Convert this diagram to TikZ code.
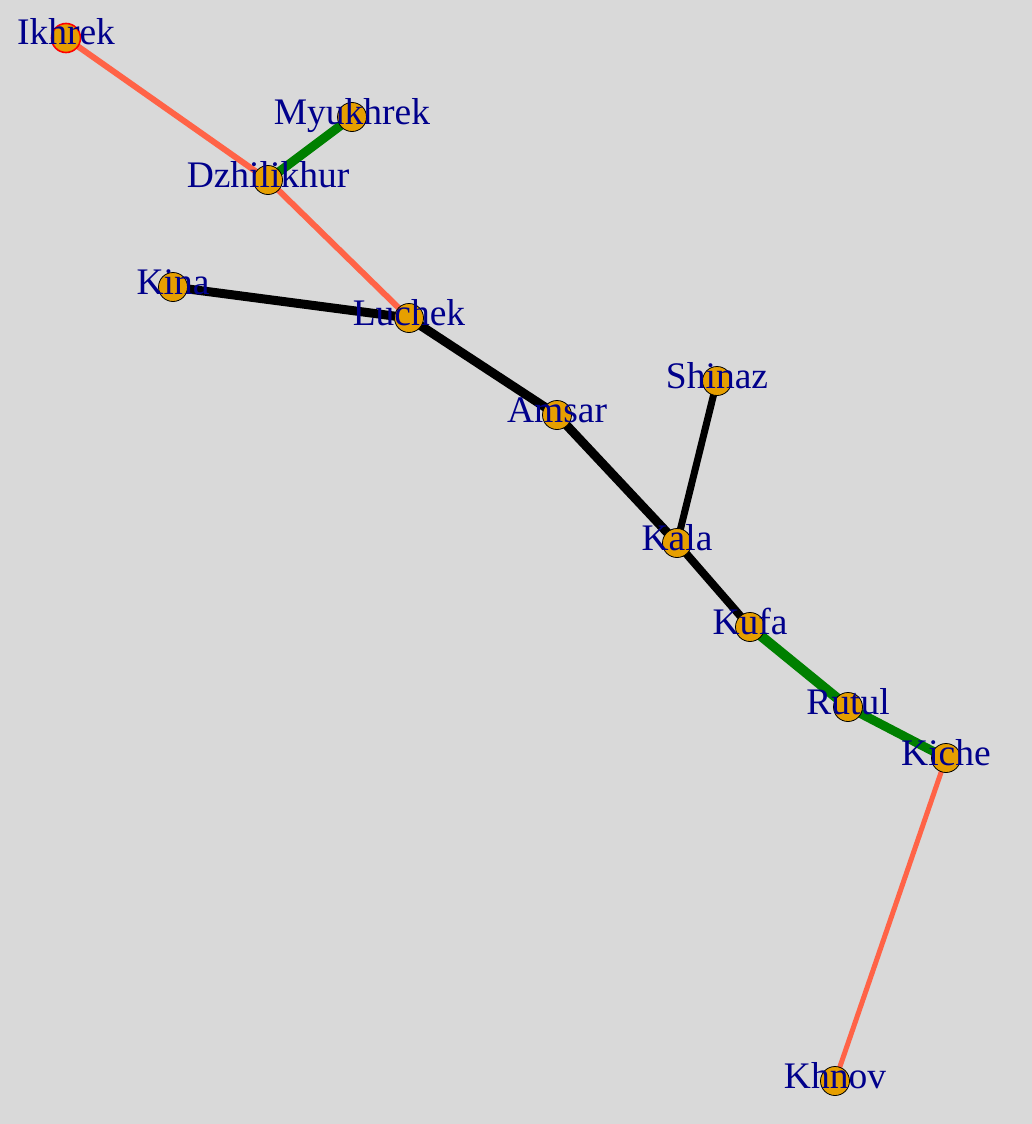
\documentclass[tikz,border=0pt]{standalone}
\usepackage{fontspec}
\setmainfont{Liberation Serif}
\usetikzlibrary{backgrounds}
\definecolor{fondo}{RGB}{217,217,217}
\definecolor{tomate}{RGB}{255,99,71}
\definecolor{verde}{RGB}{0,128,0}
\definecolor{naranja}{RGB}{230,159,0}
\definecolor{azul}{RGB}{0,0,139}
\tikzset{
  vert/.style={
    circle, draw=black, line width=0.8pt, fill=naranja,
    minimum size=29pt, inner sep=0pt},
  etiq/.style={
    anchor=base, yshift=-7pt, inner sep=0pt, text=azul,
    font=\fontsize{37.5}{40}\selectfont},
  rojo/.style={draw=tomate, line width=#1pt},
  rojo/.default=6,
  vde/.style={draw=verde, line width=#1pt},
  vde/.default=9,
  negro/.style={draw=black, line width=#1pt},
  negro/.default=9
}

\begin{document}
\begin{tikzpicture}[x=1pt,y=-1pt]

\useasboundingbox (0,0) rectangle (1032,1124);

\node[vert, draw=red, line width=1.6pt] (ikhrek) at (66,38) {};
\node[vert] (myukhrek)   at (352,117) {};
\node[vert] (dzhilikhur) at (268,180) {};
\node[vert] (kina)       at (173,287) {};
\node[vert] (luchek)     at (409,318) {};
\node[vert] (shinaz)     at (717,381) {};
\node[vert] (amsar)      at (557,415) {};
\node[vert] (kala)       at (677,543) {};
\node[vert] (kufa)       at (750,627) {};
\node[vert] (rutul)      at (848,707) {};
\node[vert] (kiche)      at (946,758) {};
\node[vert] (khnov)      at (835,1081) {};

% etiquetas encima de los vertices
\node[etiq] (ikhrek-t)     at (ikhrek)     {Ikhrek};
\node[etiq] (myukhrek-t)   at (myukhrek)   {Myukhrek};
\node[etiq] (dzhilikhur-t) at (dzhilikhur) {Dzhilikhur};
\node[etiq] (kina-t)       at (kina)       {Kina};
\node[etiq] (luchek-t)     at (luchek)     {Luchek};
\node[etiq] (shinaz-t)     at (shinaz)     {Shinaz};
\node[etiq] (amsar-t)      at (amsar)      {Amsar};
\node[etiq] (kala-t)       at (kala)       {Kala};
\node[etiq] (kufa-t)       at (kufa)       {Kufa};
\node[etiq] (rutul-t)      at (rutul)      {Rutul};
\node[etiq] (kiche-t)      at (kiche)      {Kiche};
\node[etiq] (khnov-t)      at (khnov)      {Khnov};

\begin{scope}[on background layer]
  \fill[fondo] (0,0) rectangle (1032,1124);
  \draw[rojo]     (ikhrek.center) -- (dzhilikhur.center);
  \draw[rojo]     (dzhilikhur.center) -- (luchek.center);
  \draw[vde]      (myukhrek.center) -- (dzhilikhur.center);
  \draw[negro]    (kina.center) -- (luchek.center);
  \draw[negro]    (luchek.center) -- (amsar.center);
  \draw[negro]    (amsar.center) -- (kala.center);
  \draw[negro=7]  (shinaz.center) -- (kala.center);
  \draw[negro=8]  (kala.center) -- (kufa.center);
  \draw[vde=10]   (kufa.center) -- (rutul.center);
  \draw[vde]      (rutul.center) -- (kiche.center);
  \draw[rojo=5]   (kiche.center) -- (khnov.center);
\end{scope}

\end{tikzpicture}
\end{document}
